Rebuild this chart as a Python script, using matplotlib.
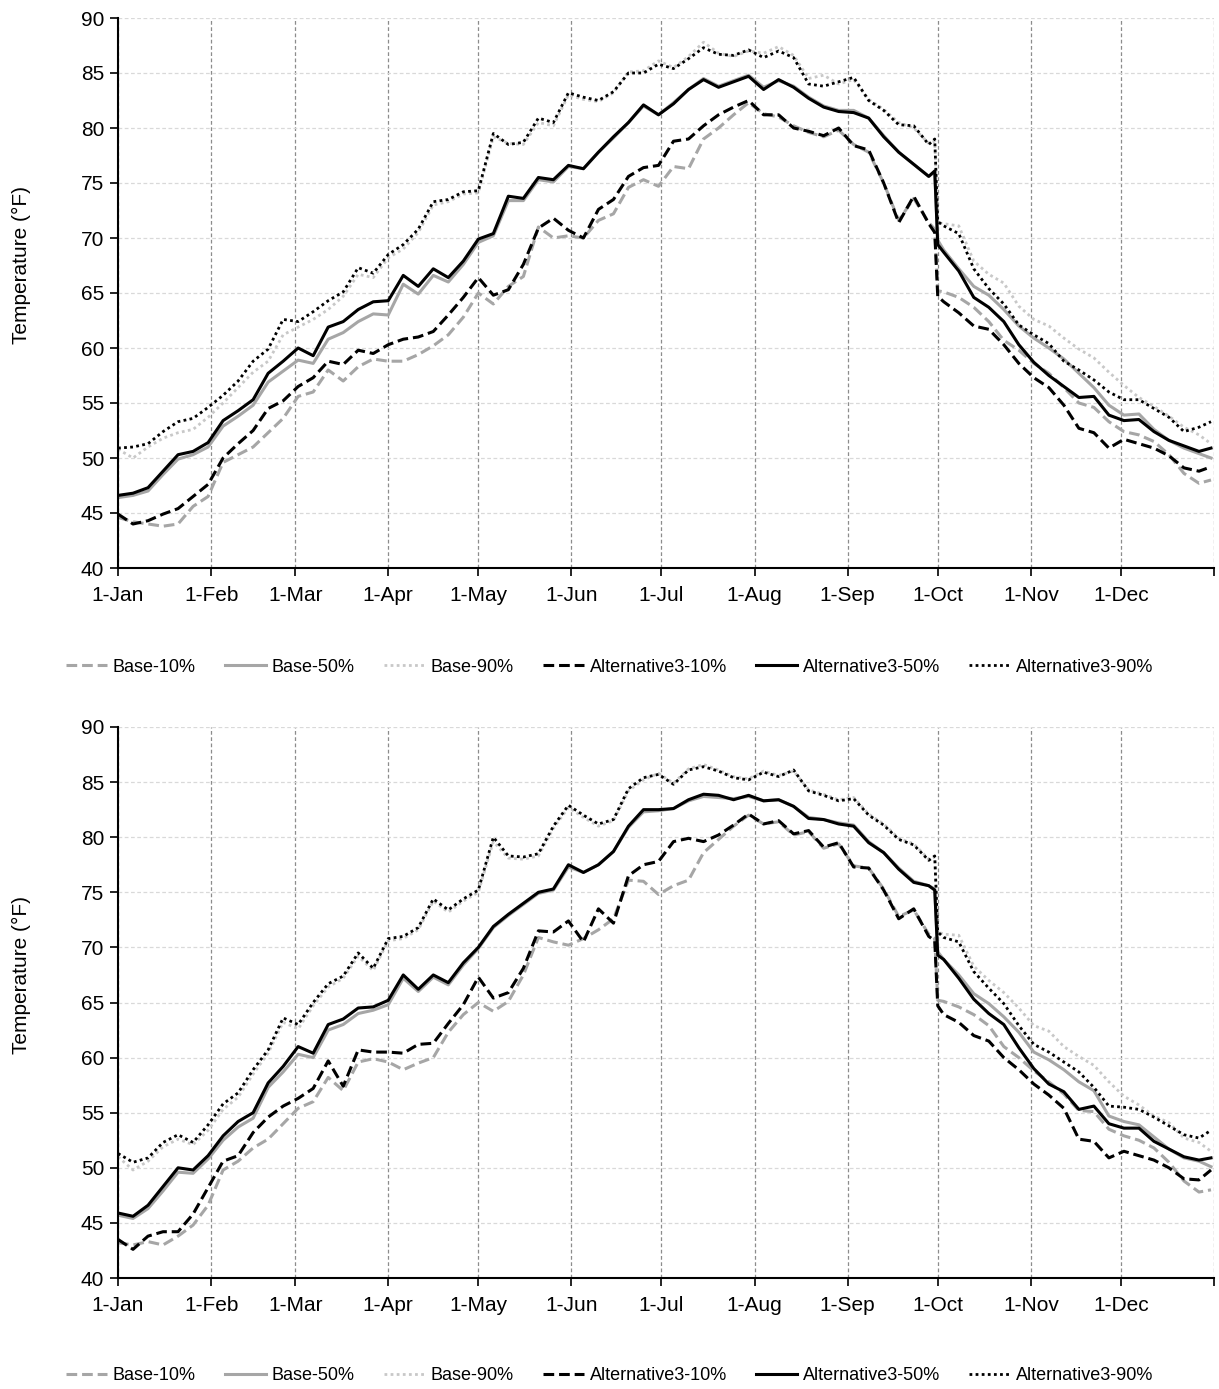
import matplotlib
matplotlib.use("Agg")
import matplotlib.pyplot as plt

plt.rcParams['font.family'] = ['Liberation Sans', 'DejaVu Sans']

# sample days (day of year, 0 = 1-Jan), read about every 5 days off the chart
days = list(range(0, 271, 5)) + [272, 273, 275] + list(range(280, 361, 5)) + [364]

month_starts = [0, 31, 59, 90, 120, 151, 181, 212, 243, 273, 304, 334, 365]
month_labels = ['1-Jan', '1-Feb', '1-Mar', '1-Apr', '1-May', '1-Jun',
                '1-Jul', '1-Aug', '1-Sep', '1-Oct', '1-Nov', '1-Dec', '']

series_names = ['Base-10%', 'Base-50%', 'Base-90%',
                'Alternative3-10%', 'Alternative3-50%', 'Alternative3-90%']

# ---- top chart ----
top_b10 = [44.6, 44.2, 44.0, 43.8, 44.0, 45.6, 46.5, 49.6, 50.3, 51.0,
           52.3, 53.6, 55.6, 56.0, 58.0, 57.0, 58.3, 59.0, 58.8, 58.8,
           59.4, 60.2, 61.2, 62.8, 65.0, 64.0, 65.6, 66.5, 71.0, 70.0,
           70.2, 70.0, 71.6, 72.2, 74.6, 75.3, 74.7, 76.5, 76.3, 79.0,
           80.0, 81.2, 82.3, 81.3, 81.0, 80.2, 79.6, 79.2, 79.8, 78.5,
           77.8, 75.0, 71.6, 73.6, 71.4,
           70.8, 65.2, 65.1,
           64.6, 63.7, 62.4, 60.7, 59.8, 58.6, 57.7, 56.4, 55.0, 54.6,
           53.3, 52.4, 52.1, 51.5, 50.3, 48.6, 47.7,
           48.0]
top_b50 = [46.4, 46.6, 47.0, 48.5, 49.9, 50.3, 51.0, 52.9, 53.8, 54.8,
           56.9, 57.9, 58.9, 58.6, 60.8, 61.4, 62.4, 63.1, 63.0, 65.8,
           64.9, 66.6, 66.0, 67.6, 69.6, 70.2, 73.4, 73.4, 75.3, 75.1,
           76.5, 76.3, 77.8, 79.1, 80.5, 82.0, 81.2, 82.3, 83.5, 84.5,
           83.8, 84.3, 84.8, 83.7, 84.3, 83.8, 82.8, 82.0, 81.6, 81.6,
           80.9, 79.3, 77.8, 76.7, 75.6,
           76.0, 69.8, 68.9,
           67.2, 65.6, 64.8, 63.5, 62.0, 60.9, 60.0, 59.0, 57.7, 56.4,
           54.8, 53.9, 54.0, 52.6, 51.6, 50.9, 50.4,
           50.0]
top_b90 = [50.8, 50.0, 51.0, 51.8, 52.3, 52.6, 53.7, 55.0, 56.4, 57.8,
           58.8, 61.2, 61.9, 62.6, 63.5, 64.7, 66.7, 66.4, 68.2, 69.0,
           70.5, 73.0, 73.3, 74.0, 74.1, 79.2, 78.6, 78.5, 80.5, 80.2,
           83.0, 82.6, 82.4, 83.2, 85.1, 85.2, 86.1, 85.5, 86.5, 87.8,
           86.8, 86.5, 87.0, 86.8, 87.4, 86.6, 84.5, 84.8, 84.0, 84.4,
           82.6, 81.7, 80.5, 80.0, 78.6,
           78.8, 71.4, 71.3,
           71.1, 67.9, 66.7, 65.9, 63.8, 62.6, 62.0, 60.9, 59.9, 59.1,
           57.8, 56.6, 55.5, 54.7, 53.8, 52.8, 52.1,
           51.3]
top_a10 = [44.9, 44.0, 44.3, 44.9, 45.4, 46.5, 47.6, 50.0, 51.3, 52.5,
           54.5, 55.2, 56.5, 57.3, 58.8, 58.5, 59.8, 59.5, 60.3, 60.8,
           61.0, 61.5, 63.0, 64.6, 66.4, 64.8, 65.3, 67.6, 70.9, 71.8,
           70.7, 70.0, 72.6, 73.5, 75.6, 76.4, 76.6, 78.8, 79.0, 80.2,
           81.2, 81.9, 82.5, 81.2, 81.2, 80.0, 79.7, 79.3, 80.0, 78.4,
           78.0, 75.0, 71.4, 73.8, 71.3,
           70.5, 64.7, 64.2,
           63.2, 62.0, 61.7, 60.3, 58.6, 57.3, 56.4, 54.8, 52.7, 52.3,
           50.9, 51.7, 51.3, 50.9, 50.2, 49.1, 48.8,
           49.2]
top_a50 = [46.6, 46.8, 47.3, 48.8, 50.3, 50.6, 51.4, 53.4, 54.3, 55.3,
           57.7, 58.8, 60.0, 59.3, 61.9, 62.4, 63.5, 64.2, 64.3, 66.6,
           65.6, 67.2, 66.4, 67.9, 69.9, 70.4, 73.8, 73.6, 75.5, 75.3,
           76.6, 76.3, 77.8, 79.2, 80.5, 82.1, 81.2, 82.2, 83.5, 84.4,
           83.7, 84.2, 84.7, 83.5, 84.4, 83.7, 82.7, 81.9, 81.5, 81.4,
           80.9, 79.2, 77.8, 76.7, 75.6,
           76.1, 69.4, 68.7,
           67.0, 64.6, 63.7, 62.4, 60.3, 58.7, 57.5, 56.5, 55.5, 55.6,
           53.9, 53.4, 53.5, 52.4, 51.6, 51.1, 50.6,
           50.9]
top_a90 = [50.9, 51.0, 51.3, 52.4, 53.3, 53.6, 54.6, 55.7, 57.0, 58.8,
           59.9, 62.6, 62.4, 63.3, 64.3, 65.1, 67.3, 66.8, 68.5, 69.4,
           70.8, 73.3, 73.5, 74.2, 74.3, 79.5, 78.5, 78.7, 80.9, 80.5,
           83.2, 82.8, 82.5, 83.3, 85.0, 85.0, 85.8, 85.4, 86.3, 87.3,
           86.7, 86.6, 87.1, 86.4, 87.0, 86.4, 84.0, 83.8, 84.2, 84.6,
           82.5, 81.6, 80.3, 80.2, 78.5,
           79.0, 71.5, 71.1,
           70.4, 67.2, 65.4, 64.0, 62.1, 61.2, 60.4, 58.8, 58.0, 57.1,
           56.0, 55.3, 55.3, 54.5, 53.7, 52.4, 52.8,
           53.3]

# ---- bottom chart ----
bot_b10 = [43.2, 43.0, 43.3, 43.0, 43.8, 44.8, 46.6, 49.8, 50.6, 51.8,
           52.6, 54.0, 55.4, 56.0, 58.2, 57.0, 59.6, 59.9, 59.6, 58.9,
           59.5, 60.0, 62.3, 63.9, 65.0, 64.2, 65.1, 67.5, 70.9, 70.5,
           70.2, 70.8, 71.6, 72.6, 76.1, 76.0, 74.8, 75.6, 76.1, 78.6,
           79.8, 81.0, 82.0, 81.2, 81.4, 80.2, 80.5, 79.0, 79.4, 77.4,
           77.2, 75.3, 72.8, 73.4, 71.2,
           70.8, 65.2, 65.1,
           64.6, 63.9, 62.9, 61.0, 60.0, 58.8, 57.8, 56.7, 55.2, 55.1,
           53.5, 52.9, 52.5, 51.8, 50.5, 48.8, 47.8,
           48.0]
bot_b50 = [45.7, 45.4, 46.3, 47.9, 49.6, 49.5, 50.8, 52.5, 53.7, 54.5,
           57.3, 58.7, 60.3, 60.0, 62.5, 63.0, 64.0, 64.3, 64.8, 67.2,
           66.0, 67.3, 66.6, 68.4, 69.9, 71.8, 72.9, 73.9, 74.9, 75.2,
           77.3, 76.8, 77.5, 78.7, 80.9, 82.3, 82.4, 82.6, 83.3, 83.7,
           83.6, 83.5, 83.7, 83.3, 83.4, 82.8, 81.8, 81.6, 81.3, 81.1,
           79.6, 78.6, 77.2, 76.0, 75.6,
           75.3, 69.6, 68.9,
           67.5, 65.8, 64.9, 63.7, 62.3, 60.5, 59.8, 58.9, 57.8, 57.0,
           54.7, 54.2, 53.9, 52.8, 51.7, 50.9, 50.6,
           50.1]
bot_b90 = [51.0, 49.8, 50.6, 51.9, 52.6, 52.1, 53.4, 55.3, 56.4, 58.5,
           60.4, 63.2, 62.6, 64.7, 66.4, 67.2, 69.2, 67.9, 70.6, 70.8,
           71.6, 74.2, 73.2, 74.2, 75.0, 79.6, 78.1, 78.0, 78.3, 80.8,
           82.7, 81.8, 81.0, 81.5, 84.2, 85.2, 85.8, 84.9, 86.2, 86.6,
           86.1, 85.5, 85.3, 86.0, 85.6, 86.0, 84.3, 83.9, 83.4, 83.6,
           82.1, 81.2, 79.9, 79.4, 78.0,
           78.2, 71.4, 71.2,
           71.1, 68.3, 67.0, 65.9, 64.5, 62.9, 62.4, 61.0, 60.1, 59.3,
           57.8, 56.5, 55.7, 54.7, 54.1, 52.7, 52.3,
           51.5]
bot_a10 = [43.5, 42.6, 43.8, 44.2, 44.2, 45.8, 48.2, 50.6, 51.1, 53.2,
           54.6, 55.6, 56.3, 57.2, 59.7, 57.4, 60.7, 60.5, 60.5, 60.4,
           61.2, 61.3, 63.1, 64.8, 67.3, 65.4, 65.9, 68.1, 71.5, 71.4,
           72.4, 70.5, 73.5, 72.2, 76.5, 77.5, 77.8, 79.6, 79.9, 79.6,
           80.2, 81.1, 82.1, 81.2, 81.5, 80.3, 80.6, 79.1, 79.5, 77.3,
           77.2, 75.2, 72.6, 73.5, 71.0,
           70.6, 64.7, 63.9,
           63.2, 62.0, 61.5, 60.0, 58.9, 57.6, 56.6, 55.4, 52.6, 52.4,
           50.9, 51.5, 51.1, 50.7, 50.0, 49.0, 48.9,
           49.8]
bot_a50 = [45.9, 45.6, 46.6, 48.3, 50.0, 49.8, 51.1, 52.9, 54.2, 55.0,
           57.7, 59.2, 61.0, 60.4, 63.0, 63.5, 64.5, 64.6, 65.2, 67.5,
           66.2, 67.5, 66.8, 68.6, 70.0, 71.9, 73.0, 74.0, 75.0, 75.3,
           77.5, 76.8, 77.5, 78.7, 81.0, 82.5, 82.5, 82.6, 83.4, 83.9,
           83.8, 83.4, 83.8, 83.3, 83.4, 82.8, 81.7, 81.6, 81.2, 81.0,
           79.5, 78.6, 77.1, 75.9, 75.6,
           75.2, 69.3, 68.9,
           67.2, 65.3, 64.0, 63.0, 60.9, 59.0, 57.6, 56.9, 55.3, 55.6,
           54.0, 53.6, 53.6, 52.4, 51.7, 51.0, 50.7,
           50.9]
bot_a90 = [51.3, 50.5, 50.9, 52.3, 53.0, 52.3, 53.9, 55.8, 56.8, 58.9,
           60.7, 63.6, 63.0, 65.0, 66.7, 67.4, 69.5, 68.1, 70.8, 71.0,
           71.8, 74.4, 73.4, 74.4, 75.2, 80.0, 78.3, 78.2, 78.5, 81.0,
           82.9, 82.0, 81.2, 81.6, 84.4, 85.4, 85.7, 84.8, 86.1, 86.4,
           86.0, 85.4, 85.2, 85.9, 85.5, 86.1, 84.2, 83.8, 83.3, 83.5,
           82.0, 81.1, 79.8, 79.3, 77.9,
           78.3, 71.4, 70.9,
           70.5, 67.8, 66.3, 64.9, 62.9, 61.2, 60.5, 59.6, 58.7, 57.3,
           55.6, 55.5, 55.3, 54.6, 53.8, 53.0, 52.7,
           53.4]

top_data = [top_b10, top_b50, top_b90, top_a10, top_a50, top_a90]
bot_data = [bot_b10, bot_b50, bot_b90, bot_a10, bot_a50, bot_a90]

styles = [
    dict(color='#a6a6a6', lw=2.2, linestyle=(0, (3.5, 1.6))),
    dict(color='#a6a6a6', lw=2.2, linestyle='-'),
    dict(color='#c8c8c8', lw=2.0, linestyle=(0, (1, 1.2))),
    dict(color='black', lw=2.2, linestyle=(0, (3.5, 1.6))),
    dict(color='black', lw=2.2, linestyle='-'),
    dict(color='black', lw=2.0, linestyle=(0, (1, 1.2))),
]

W, H = 1219, 1389
fig = plt.figure(figsize=(W / 100, H / 100), dpi=100)
ax1 = fig.add_axes([118 / W, 1 - 568 / H, 1096 / W, 550 / H])
ax2 = fig.add_axes([118 / W, 1 - 1278 / H, 1096 / W, 551 / H])


def draw(ax, data):
    lines = []
    for vals, st in zip(data, styles):
        ln, = ax.plot(days, vals, solid_joinstyle='round', **st)
        lines.append(ln)
    ax.set_xlim(0, 365)
    ax.set_ylim(40, 90)
    ax.set_yticks(range(40, 91, 5))
    ax.set_xticks(month_starts)
    ax.set_xticklabels(month_labels)
    ax.yaxis.grid(True, color='#d9d9d9', linestyle=(0, (3, 2)), lw=0.9)
    ax.xaxis.grid(True, color='#8c8c8c', linestyle=(0, (3, 2)), lw=0.9)
    ax.set_axisbelow(True)
    for s in ['top', 'right']:
        ax.spines[s].set_visible(False)
    for s in ['left', 'bottom']:
        ax.spines[s].set_linewidth(1.5)
    ax.tick_params(direction='out', length=6, width=1.2, labelsize=15,
                   colors='black')
    ax.tick_params(axis='y', pad=4)
    ax.tick_params(axis='x', pad=7)
    ax.set_ylabel('Temperature (°F)', fontsize=15)
    ax.yaxis.set_label_coords(-0.079, 0.55)
    return lines


lines1 = draw(ax1, top_data)
lines2 = draw(ax2, bot_data)

fig.legend(lines1, series_names, loc='center', bbox_to_anchor=(0.5, 1 - 667 / H),
           ncol=6, frameon=False, fontsize=13, handlelength=2.3,
           handletextpad=0.3, columnspacing=1.6)
fig.legend(lines2, series_names, loc='center', bbox_to_anchor=(0.5, 1 - 1376 / H),
           ncol=6, frameon=False, fontsize=13, handlelength=2.3,
           handletextpad=0.3, columnspacing=1.6)

fig.savefig('out.png', dpi=100)
